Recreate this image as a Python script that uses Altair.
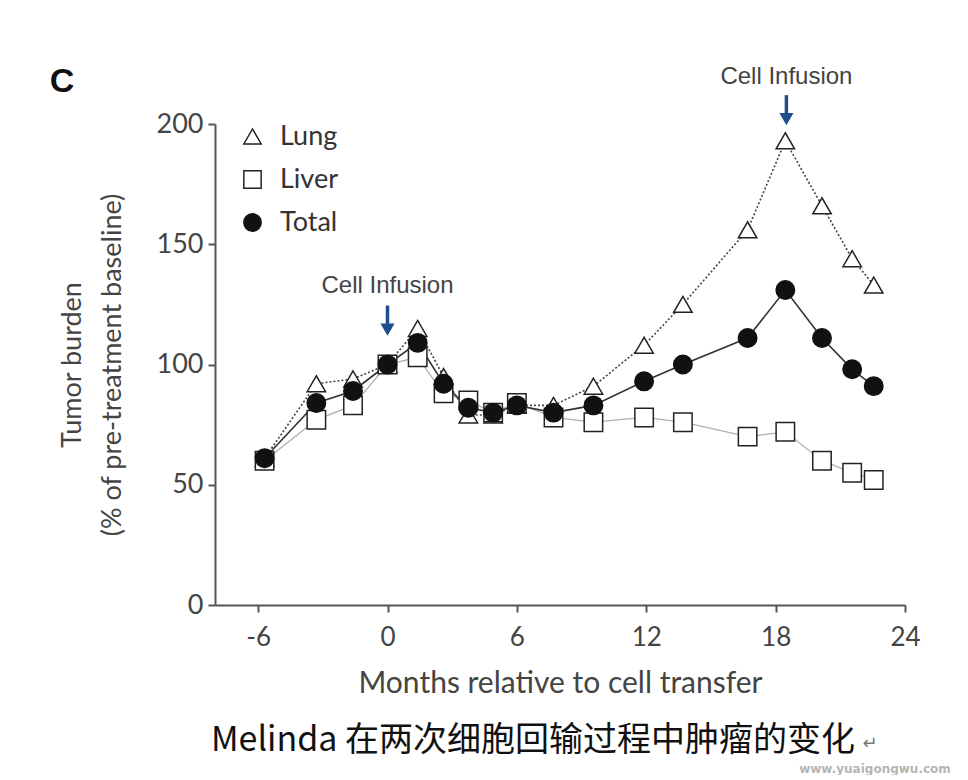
import altair as alt
import pandas as pd

months = [-5.7, -3.3, -1.6, 0.0, 1.4, 2.6, 3.75, 4.9, 6.0, 7.7, 9.55, 11.9, 13.7, 16.7, 18.45, 20.15, 21.55, 22.55]
lung = [61, 92, 94, 100, 115, 95, 79, 79, 83, 83, 91, 108, 125, 156, 193, 166, 144, 133]
liver = [60, 77, 83, 100, 103, 88, 85, 80, 84, 78, 76, 78, 76, 70, 72, 60, 55, 52]
total = [61, 84, 89, 100, 109, 92, 82, 80, 83, 80, 83, 93, 100, 111, 131, 111, 98, 91]

series_names = ["Lung", "Liver", "Total"]
z_order = {"Lung": 0, "Liver": 1, "Total": 2}
rows = []
for name, vals in zip(series_names, [lung, liver, total]):
    for m, v in zip(months, vals):
        rows.append({"month": m, "value": v, "series": name, "z": z_order[name]})
df = pd.DataFrame(rows)

ann_text = ["Cell Infusion", "Cell Infusion"]
ann_x = [0.0, 18.5]
ann_y = [132.5, 219.5]
arrow_top = [124.5, 212.0]
arrow_tip = [114.5, 202.0]
ann = pd.DataFrame({"label": ann_text, "x": ann_x, "y": ann_y, "y1": arrow_top, "y2": arrow_tip})

xs = alt.Scale(domain=[-8, 24], nice=False, zero=False)
ys = alt.Scale(domain=[0, 200], nice=False)
X = alt.X("month:Q", scale=xs, axis=alt.Axis(values=[-6, 0, 6, 12, 18, 24],
                                             labelExpr="'' + datum.value", labelFlush=False,
                                             labelFontSize=26, titleFontSize=30,
                                             title="Months relative to cell transfer"))
Y = alt.Y("value:Q", scale=ys, axis=alt.Axis(values=[0, 50, 100, 150, 200], labelFlush=False,
                                             labelFontSize=27, titleFontSize=27,
                                             title=["Tumor burden", "(% of pre-treatment baseline)"]))

base = alt.Chart(df)

liver_line = base.transform_filter(alt.datum.series == "Liver").mark_line(color="#b0b0b0", strokeWidth=1.3).encode(x=X, y=Y)
lung_line = base.transform_filter(alt.datum.series == "Lung").mark_line(color="#444444", strokeWidth=1.6, strokeDash=[2, 2]).encode(x=X, y=Y)
total_line = base.transform_filter(alt.datum.series == "Total").mark_line(color="#333333", strokeWidth=1.6).encode(x=X, y=Y)

leg = alt.Legend(title=None, orient="none", legendX=24, legendY=-1)
points = base.mark_point(filled=False, strokeWidth=1.5, size=340, opacity=1).encode(
    x=X, y=Y,
    shape=alt.Shape("series:N", scale=alt.Scale(domain=series_names, range=["triangle-up", "square", "circle"]), legend=leg),
    fill=alt.Fill("series:N", scale=alt.Scale(domain=series_names, range=["white", "white", "#111111"]), legend=leg),
    stroke=alt.Stroke("series:N", scale=alt.Scale(domain=series_names, range=["#222222", "#222222", "#111111"]), legend=leg),
    order=alt.Order("z:Q", sort="ascending"),
)

ann_text_mark = alt.Chart(ann).mark_text(font="Liberation Sans", fontSize=24, color="#444444").encode(
    x=alt.X("x:Q", scale=xs), y=alt.Y("y:Q", scale=ys), text="label:N")
ann_rule = alt.Chart(ann).mark_rule(color="#1f4e8c", strokeWidth=3.5, clip=False).encode(
    x=alt.X("x:Q", scale=xs), y=alt.Y("y1:Q", scale=ys), y2="y2:Q")
ann_head = alt.Chart(ann).mark_point(shape="triangle-down", filled=True, color="#1f4e8c", size=200, opacity=1, clip=False).encode(
    x=alt.X("x:Q", scale=xs), y=alt.Y("y2:Q", scale=ys))

panel = alt.Chart(pd.DataFrame({"t": ["C"]})).mark_text(font="Liberation Sans", fontSize=34, fontWeight="bold", color="#111111").encode(
    x=alt.value(-153), y=alt.value(-42), text="t:N")
caption = alt.Chart(pd.DataFrame({"t": ["Melinda 在两次细胞回输过程中肿瘤的变化"]})).mark_text(
    font="Noto Sans CJK SC", fontSize=34, color="#111111").encode(x=alt.value(318), y=alt.value(617), text="t:N")
return_mark = alt.Chart(pd.DataFrame({"t": ["↵"]})).mark_text(
    font="DejaVu Sans", fontSize=18, color="#777777").encode(x=alt.value(655), y=alt.value(620), text="t:N")
watermark = alt.Chart(pd.DataFrame({"t": ["www.yuaigongwu.com"]})).mark_text(
    font="DejaVu Sans", fontSize=12, fontWeight="bold", color="#b5b5b5").encode(
    x=alt.value(660), y=alt.value(645), text="t:N")

chart = alt.layer(
    liver_line, lung_line, total_line, points, ann_rule, ann_head, ann_text_mark, panel, caption, return_mark, watermark
).properties(
    width=690, height=481,
    autosize=alt.AutoSizeParams(type="none"),
    padding={"left": 207, "top": 116, "right": 50, "bottom": 170},
    background="white",
).configure_view(stroke=None).configure_axis(
    labelFont="Lato", labelColor="#444444",
    titleFont="Lato", titleColor="#444444", titleFontWeight="normal",
    domainColor="#555555", domainWidth=2, tickColor="#555555", tickWidth=2, tickSize=7,
    grid=False,
).configure_axisY(titlePadding=30, labelPadding=5, titleLineHeight=40
).configure_axisX(titlePadding=18, labelPadding=12
).configure_legend(
    labelFont="Lato", labelFontSize=27, labelColor="#333333", symbolSize=300,
    symbolStrokeWidth=1.5, rowPadding=15, labelOffset=14,
)

chart.save("out.html", embed_options={"renderer": "svg", "actions": False})
